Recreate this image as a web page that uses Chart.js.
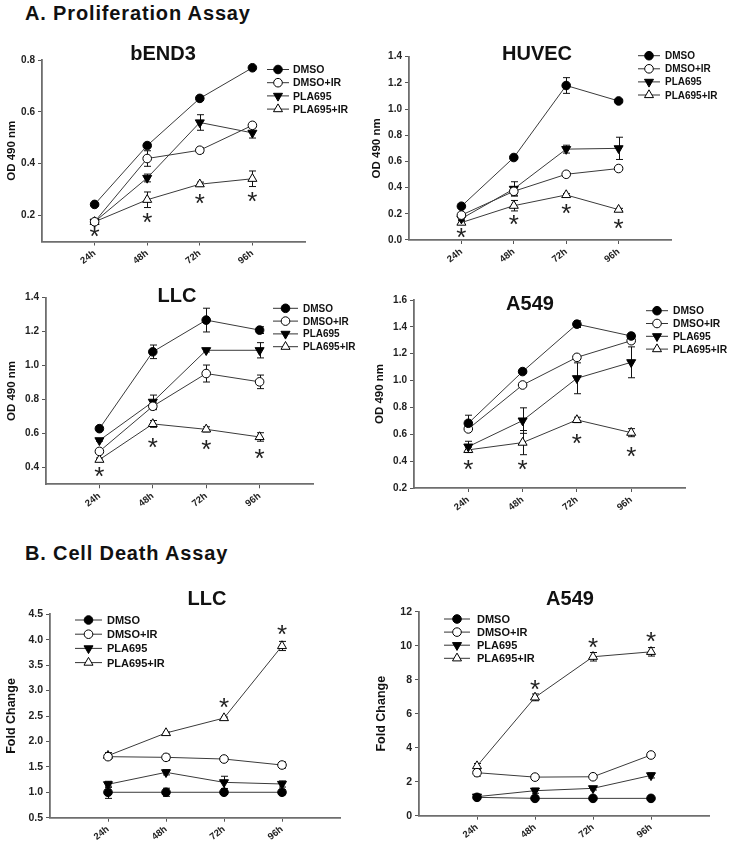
<!DOCTYPE html>
<html>
<head>
<meta charset="utf-8">
<script src="https://cdn.jsdelivr.net/npm/chart.js@4.4.0/dist/chart.umd.min.js"></script>
<style>
  html, body { margin: 0; padding: 0; background: #fff; }
  #page { position: relative; width: 732px; height: 845px; overflow: hidden; }
  #page canvas { position: absolute; left: 0; top: 0; }
  .head { position: absolute; left: 25px; font: bold 20px "Liberation Sans", Arial, sans-serif;
          letter-spacing: 0.85px; line-height: 20px; color: #111; white-space: nowrap; }
</style>
</head>
<body>
<div id="page">
  <div class="head" style="top:3px">A. Proliferation Assay</div>
  <div class="head" style="top:543px">B. Cell Death Assay</div>
  <canvas id="c1" width="732" height="845"></canvas>
  <canvas id="c2" width="732" height="845"></canvas>
  <canvas id="c3" width="732" height="845"></canvas>
  <canvas id="c4" width="732" height="845"></canvas>
  <canvas id="c5" width="732" height="845"></canvas>
  <canvas id="c6" width="732" height="845"></canvas>
</div>
<script>
// shared categories
const hours = [24, 48, 72, 96];
const hourLabels = ['24h', '48h', '72h', '96h'];
const seriesNames = ['DMSO', 'DMSO+IR', 'PLA695', 'PLA695+IR'];

// A. proliferation - bEND3
const bendDmso = [0.243, 0.470, 0.652, 0.770];
const bendDmsoErr = [0.005, 0.008, 0.008, 0.005];
const bendDmsoIr = [0.176, 0.420, 0.452, 0.548];
const bendDmsoIrErr = [0.008, 0.030, 0.010, 0.010];
const bendPla = [0.176, 0.345, 0.559, 0.519];
const bendPlaErr = [0.005, 0.015, 0.030, 0.020];
const bendPlaIr = [0.176, 0.261, 0.321, 0.342];
const bendPlaIrErr = [0.008, 0.030, 0.008, 0.030];
const bendStars = [0.135, 0.190, 0.263, 0.273];
const bendTicks = [0.2, 0.4, 0.6, 0.8];

// A. proliferation - HUVEC
const huvDmso = [0.258, 0.630, 1.180, 1.062];
const huvDmsoErr = [0.010, 0.010, 0.060, 0.010];
const huvDmsoIr = [0.190, 0.372, 0.502, 0.546];
const huvDmsoIrErr = [0.010, 0.030, 0.010, 0.010];
const huvPla = [0.163, 0.390, 0.694, 0.700];
const huvPlaErr = [0.010, 0.055, 0.030, 0.085];
const huvPlaIr = [0.133, 0.262, 0.344, 0.232];
const huvPlaIrErr = [0.015, 0.040, 0.010, 0.010];
const huvStars = [0.050, 0.150, 0.240, 0.125];
const huvTicks = [0.0, 0.2, 0.4, 0.6, 0.8, 1.0, 1.2, 1.4];

// A. proliferation - LLC
const llcDmso = [0.628, 1.081, 1.268, 1.209];
const llcDmsoErr = [0.010, 0.040, 0.070, 0.020];
const llcDmsoIr = [0.494, 0.760, 0.953, 0.904];
const llcDmsoIrErr = [0.010, 0.020, 0.050, 0.040];
const llcPla = [0.559, 0.786, 1.090, 1.090];
const llcPlaErr = [0.005, 0.040, 0.010, 0.045];
const llcPlaIr = [0.445, 0.656, 0.624, 0.579];
const llcPlaIrErr = [0.010, 0.020, 0.015, 0.025];
const llcStars = [0.372, 0.545, 0.530, 0.477];
const llcTicks = [0.4, 0.6, 0.8, 1.0, 1.2, 1.4];

// A. proliferation - A549
const a549Dmso = [0.682, 1.067, 1.420, 1.332];
const a549DmsoErr = [0.060, 0.010, 0.025, 0.020];
const a549DmsoIr = [0.640, 0.967, 1.173, 1.297];
const a549DmsoIrErr = [0.010, 0.010, 0.010, 0.020];
const a549Pla = [0.508, 0.702, 1.017, 1.136];
const a549PlaErr = [0.040, 0.095, 0.115, 0.115];
const a549PlaIr = [0.484, 0.538, 0.707, 0.612];
const a549PlaIrErr = [0.020, 0.090, 0.020, 0.030];
const a549Stars = [0.372, 0.372, 0.563, 0.471];
const a549Ticks = [0.2, 0.4, 0.6, 0.8, 1.0, 1.2, 1.4, 1.6];

// B. cell death - LLC
const llcdDmso = [1.00, 1.00, 1.00, 1.00];
const llcdDmsoErr = [0.12, 0.08, 0.04, 0.05];
const llcdDmsoIr = [1.700, 1.687, 1.654, 1.536];
const llcdDmsoIrErr = [0.05, 0.06, 0.02, 0.06];
const llcdPla = [1.156, 1.392, 1.195, 1.163];
const llcdPlaErr = [0.06, 0.05, 0.12, 0.06];
const llcdPlaIr = [1.720, 2.166, 2.460, 3.877];
const llcdPlaIrErr = [0.06, 0.02, 0.02, 0.09];
const llcdStars = [null, null, 2.75, 4.19];
const llcdTicks = [0.5, 1.0, 1.5, 2.0, 2.5, 3.0, 3.5, 4.0, 4.5];

// B. cell death - A549
const a549dDmso = [1.08, 1.02, 1.02, 1.02];
const a549dDmsoErr = [0.10, 0.06, 0.05, 0.05];
const a549dDmsoIr = [2.53, 2.27, 2.29, 3.57];
const a549dDmsoIrErr = [0.20, 0.08, 0.08, 0.10];
const a549dPla = [1.12, 1.47, 1.61, 2.37];
const a549dPlaErr = [0.10, 0.15, 0.10, 0.15];
const a549dPlaIr = [2.92, 6.96, 9.35, 9.64];
const a549dPlaIrErr = [0.15, 0.20, 0.25, 0.25];
const a549dStars = [null, 7.69, 10.13, 10.5];
const a549dTicks = [0, 2, 4, 6, 8, 10, 12];

const FONT = '"Liberation Sans", Arial, sans-serif';

const seriesStyle = [
  { pointStyle: 'circle', fill: '#000', radius: 4.3, rotation: 0 },
  { pointStyle: 'circle', fill: '#fff', radius: 4.3, rotation: 0 },
  { pointStyle: 'triangle', fill: '#000', radius: 5.2, rotation: 180 },
  { pointStyle: 'triangle', fill: '#fff', radius: 5.2, rotation: 0 }
];

// area = chart area in page px [left, top, right, bottom]
// legend = [line start, line end, text x, first row y, row gap]
const panels = [
  { id: 'c1', title: 'bEND3', yTitle: 'OD 490 nm',
    means: [bendDmso, bendDmsoIr, bendPla, bendPlaIr], errs: [bendDmsoErr, bendDmsoIrErr, bendPlaErr, bendPlaIrErr],
    stars: bendStars, yTicks: bendTicks, yMin: 0.1, yMax: 0.8, dec: 1,
    area: [42, 60, 305, 241.5], titleAt: [163, 53], yTitleX: 12, legend: [267, 289, 293, 69.5, 13.2],
    tickSize: 10, yTitleSize: 11.5, legendSize: 10.5 },
  { id: 'c2', title: 'HUVEC', yTitle: 'OD 490 nm',
    means: [huvDmso, huvDmsoIr, huvPla, huvPlaIr], errs: [huvDmsoErr, huvDmsoIrErr, huvPlaErr, huvPlaIrErr],
    stars: huvStars, yTicks: huvTicks, yMin: 0, yMax: 1.4, dec: 1,
    area: [409, 56.7, 671, 240], titleAt: [537, 53], yTitleX: 377, legend: [638, 660, 665, 55.7, 13.1],
    tickSize: 10, yTitleSize: 11.5, legendSize: 10 },
  { id: 'c3', title: 'LLC', yTitle: 'OD 490 nm',
    means: [llcDmso, llcDmsoIr, llcPla, llcPlaIr], errs: [llcDmsoErr, llcDmsoIrErr, llcPlaErr, llcPlaIrErr],
    stars: llcStars, yTicks: llcTicks, yMin: 0.3, yMax: 1.4, dec: 1,
    area: [46, 297.7, 313, 484.3], titleAt: [177, 295], yTitleX: 11.7, legend: [273, 298, 303, 308.3, 12.8],
    tickSize: 10, yTitleSize: 11.5, legendSize: 10 },
  { id: 'c4', title: 'A549', yTitle: 'OD 490 nm',
    means: [a549Dmso, a549DmsoIr, a549Pla, a549PlaIr], errs: [a549DmsoErr, a549DmsoIrErr, a549PlaErr, a549PlaIrErr],
    stars: a549Stars, yTicks: a549Ticks, yMin: 0.2, yMax: 1.6, dec: 1,
    area: [414, 300, 685.5, 488], titleAt: [530, 303], yTitleX: 380, legend: [646, 668, 673, 310.7, 12.8],
    tickSize: 10, yTitleSize: 11.5, legendSize: 10.3 },
  { id: 'c5', title: 'LLC', yTitle: 'Fold Change',
    means: [llcdDmso, llcdDmsoIr, llcdPla, llcdPlaIr], errs: [llcdDmsoErr, llcdDmsoIrErr, llcdPlaErr, llcdPlaIrErr],
    stars: llcdStars, yTicks: llcdTicks, yMin: 0.5, yMax: 4.5, dec: 1,
    area: [50, 614.3, 340, 817.7], titleAt: [207, 598], yTitleX: 11.7, legend: [75, 102, 107, 620, 14.2],
    tickSize: 10.5, yTitleSize: 12.5, legendSize: 11 },
  { id: 'c6', title: 'A549', yTitle: 'Fold Change',
    means: [a549dDmso, a549dDmsoIr, a549dPla, a549dPlaIr], errs: [a549dDmsoErr, a549dDmsoIrErr, a549dPlaErr, a549dPlaIrErr],
    stars: a549dStars, yTicks: a549dTicks, yMin: 0, yMax: 12, dec: 0,
    area: [419, 611.7, 709, 815.7], titleAt: [570, 598], yTitleX: 382, legend: [444, 470, 477, 619, 13.1],
    tickSize: 10.5, yTitleSize: 12.5, legendSize: 11 }
];

function deco(p) {
  return {
    id: 'deco',
    beforeDatasetsDraw(chart) {
      const { ctx, scales: { x, y } } = chart;
      ctx.save();
      ctx.strokeStyle = '#111';
      ctx.lineWidth = 1;
      p.means.forEach((m, i) => {
        m.forEach((v, j) => {
          const e = p.errs[i][j];
          if (!e) return;
          const px = Math.round(x.getPixelForValue(hours[j])) + 0.5;
          const t = y.getPixelForValue(v + e);
          const b = y.getPixelForValue(v - e);
          ctx.beginPath();
          ctx.moveTo(px, t); ctx.lineTo(px, b);
          ctx.moveTo(px - 3.5, t); ctx.lineTo(px + 3.5, t);
          ctx.moveTo(px - 3.5, b); ctx.lineTo(px + 3.5, b);
          ctx.stroke();
        });
      });
      ctx.restore();
    },
    afterDatasetsDraw(chart) {
      const { ctx, scales: { x, y } } = chart;
      ctx.save();
      // significance stars
      ctx.fillStyle = '#222';
      ctx.font = '26px ' + FONT;
      ctx.textAlign = 'center';
      ctx.textBaseline = 'alphabetic';
      const m = ctx.measureText('*');
      const off = (m.actualBoundingBoxAscent - m.actualBoundingBoxDescent) / 2;
      p.stars.forEach((s, j) => {
        if (s == null) return;
        ctx.fillText('*', x.getPixelForValue(hours[j]), y.getPixelForValue(s) + off);
      });
      // panel title
      ctx.fillStyle = '#111';
      ctx.font = 'bold 20px ' + FONT;
      ctx.fillText(p.title, p.titleAt[0], p.titleAt[1] + 0.358 * 20);
      // legend
      const [lx0, lx1, tx, ly, gap] = p.legend;
      seriesNames.forEach((name, i) => {
        const yy = ly + i * gap;
        ctx.strokeStyle = '#333';
        ctx.lineWidth = 1;
        ctx.beginPath(); ctx.moveTo(lx0, yy); ctx.lineTo(lx1, yy); ctx.stroke();
        const st = seriesStyle[i];
        ctx.fillStyle = st.fill;
        ctx.strokeStyle = '#000';
        Chart.helpers.drawPoint(ctx, { pointStyle: st.pointStyle, radius: st.radius, rotation: st.rotation, borderWidth: 1 }, (lx0 + lx1) / 2, yy);
        ctx.fillStyle = '#111';
        ctx.font = 'bold ' + p.legendSize + 'px ' + FONT;
        ctx.textAlign = 'left';
        ctx.fillText(name, tx, yy + 0.358 * p.legendSize);
      });
      ctx.restore();
    }
  };
}

panels.forEach(p => {
  const [x0, y0, x1, y1] = p.area;
  const yW = x0 - (p.yTitleX - p.yTitleSize * 1.2 / 2);
  const xH = 30;
  const axisGrid = { display: true, drawOnChartArea: false, drawTicks: true, tickLength: 4, color: '#555', lineWidth: 1 };
  const axisBorder = { display: true, color: '#6e6e6e', width: 1.8 };

  new Chart(document.getElementById(p.id), {
    type: 'line',
    data: {
      datasets: p.means.map((m, i) => ({
        label: seriesNames[i],
        data: m.map((v, j) => ({ x: hours[j], y: v })),
        borderColor: '#3a3a3a',
        borderWidth: 1,
        fill: false,
        tension: 0,
        pointStyle: seriesStyle[i].pointStyle,
        pointRadius: seriesStyle[i].radius,
        pointRotation: seriesStyle[i].rotation,
        pointBackgroundColor: seriesStyle[i].fill,
        pointBorderColor: '#000',
        pointBorderWidth: 1,
        clip: false
      }))
    },
    options: {
      responsive: false,
      animation: false,
      events: [],
      layout: { padding: { left: x0 - yW, top: y0, right: 732 - x1, bottom: 845 - y1 - xH } },
      plugins: { legend: { display: false }, tooltip: { enabled: false }, title: { display: false } },
      scales: {
        x: {
          type: 'linear', min: 0, max: 120,
          afterBuildTicks: s => { s.ticks = hours.map(v => ({ value: v })); },
          afterFit: s => { s.height = xH; },
          ticks: {
            callback: (v, i) => hourLabels[i],
            minRotation: 38, maxRotation: 38, padding: 2,
            color: '#222', font: { family: FONT, size: 9.5, weight: 'bold' }
          },
          grid: axisGrid,
          border: axisBorder
        },
        y: {
          type: 'linear', min: p.yMin, max: p.yMax,
          afterBuildTicks: s => { s.ticks = p.yTicks.map(v => ({ value: v })); },
          afterFit: s => { s.width = yW; },
          ticks: {
            callback: v => Number(v).toFixed(p.dec),
            padding: 3,
            color: '#222', font: { family: FONT, size: p.tickSize, weight: 'bold' }
          },
          title: { display: true, text: p.yTitle, padding: 0, color: '#111', font: { family: FONT, size: p.yTitleSize, weight: 'bold' } },
          grid: axisGrid,
          border: axisBorder
        }
      }
    },
    plugins: [deco(p)]
  });
});
</script>
</body>
</html>
